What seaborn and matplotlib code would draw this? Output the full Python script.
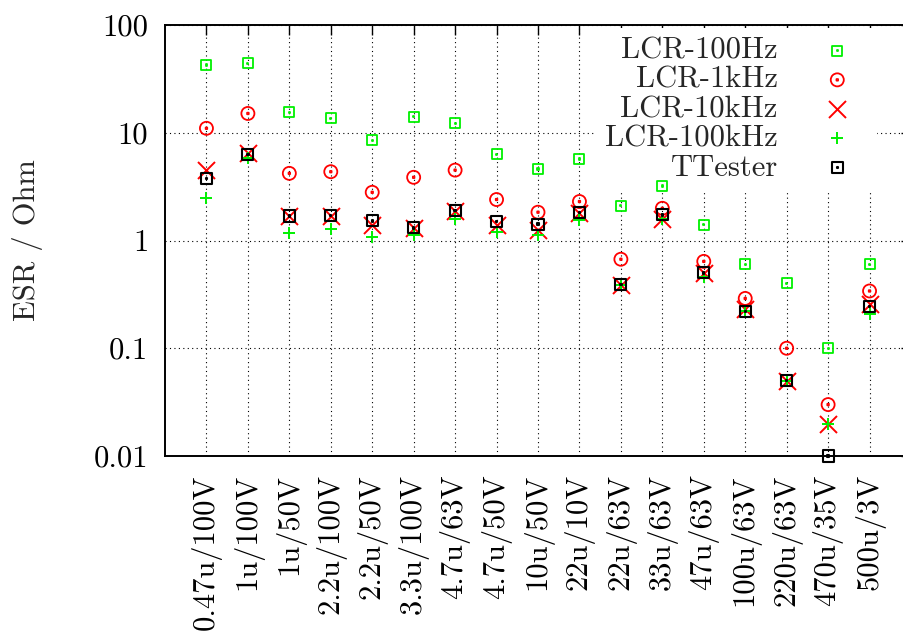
import matplotlib
matplotlib.use("Agg")
import matplotlib.pyplot as plt
from matplotlib.path import Path
from matplotlib.ticker import LogLocator, FuncFormatter, NullFormatter
import seaborn as sns

# capacitor labels (value / voltage)
categories = ["0.47u/100V", "1u/100V", "1u/50V", "2.2u/100V", "2.2u/50V",
              "3.3u/100V", "4.7u/63V", "4.7u/50V", "10u/50V", "22u/10V",
              "22u/63V", "33u/63V", "47u/63V", "100u/63V", "220u/63V",
              "470u/35V", "500u/3V"]

# ESR in Ohm
lcr_100hz = [42.5, 44, 15.5, 13.6, 8.5, 14.1, 12.2, 6.3, 4.6, 5.7,
             2.1, 3.2, 1.4, 0.6, 0.4, 0.1, 0.6]
lcr_1khz = [11, 15.1, 4.2, 4.35, 2.8, 3.86, 4.5, 2.4, 1.83, 2.3,
            0.67, 1.99, 0.64, 0.29, 0.1, 0.03, 0.34]
lcr_10khz = [4.5, 6.5, 1.69, 1.7, 1.38, 1.31, 1.89, 1.39, 1.25, 1.8,
             0.39, 1.6, 0.5, 0.23, 0.05, 0.02, 0.26]
lcr_100khz = [2.5, 5.8, 1.17, 1.28, 1.08, 1.13, 1.6, 1.2, 1.13, 1.55,
              0.39, 1.6, 0.46, 0.22, 0.05, 0.02, 0.21]
ttester = [3.78, 6.3, 1.69, 1.7, 1.52, 1.31, 1.89, 1.5, 1.42, 1.81,
           0.39, 1.73, 0.5, 0.218, 0.05, 0.01, 0.243]

sns.set_style("white")
plt.rcParams["font.family"] = ["cmr10", "DejaVu Serif"]
plt.rcParams["font.size"] = 22
plt.rcParams["axes.formatter.use_mathtext"] = True

GREEN = "#00f000"
RED = "#ff0000"


def with_dot(base):
    # gnuplot style marker: outline with a small dot in the middle
    d = 0.12
    dot = Path([(-d, -d), (d, -d), (d, d), (-d, d), (-d, -d)],
               [Path.MOVETO, Path.LINETO, Path.LINETO, Path.LINETO, Path.CLOSEPOLY])
    return Path.make_compound_path(base, dot)


square = Path([(-1, -1), (1, -1), (1, 1), (-1, 1), (-1, -1)],
              [Path.MOVETO, Path.LINETO, Path.LINETO, Path.LINETO, Path.CLOSEPOLY])
sq_dot = with_dot(square)
circ_dot = with_dot(Path.unit_circle())

fig = plt.figure(figsize=(9.04, 6.34), dpi=100)
ax = fig.add_axes([165 / 904, 1 - 456 / 634, 746 / 904, 431 / 634])

sns.scatterplot(x=categories, y=lcr_100hz, marker=sq_dot, s=52, color=GREEN,
                facecolor="none", edgecolor=GREEN, linewidth=1.3,
                label="LCR-100Hz", clip_on=False, zorder=3, ax=ax)
sns.scatterplot(x=categories, y=lcr_1khz, marker=circ_dot, s=88, color=RED,
                facecolor="none", edgecolor=RED, linewidth=1.3,
                label="LCR-1kHz", clip_on=False, zorder=3, ax=ax)
sns.scatterplot(x=categories, y=lcr_10khz, marker="x", s=150, color=RED,
                linewidth=1.4, label="LCR-10kHz", clip_on=False, zorder=3, ax=ax)
sns.scatterplot(x=categories, y=lcr_100khz, marker="+", s=80, color=GREEN,
                linewidth=1.4, label="LCR-100kHz", clip_on=False, zorder=3, ax=ax)
sns.scatterplot(x=categories, y=ttester, marker=sq_dot, s=64, color="black",
                facecolor="none", edgecolor="black", linewidth=1.5,
                label="TTester", clip_on=False, zorder=4, ax=ax)

ax.set_yscale("log")
ax.set_ylim(0.01, 100)
ax.set_xlim(-1, 17)
ax.yaxis.set_major_locator(LogLocator(base=10, numticks=10))
ax.yaxis.set_minor_locator(LogLocator(base=10, subs=range(2, 10), numticks=10))
ax.yaxis.set_major_formatter(FuncFormatter(lambda v, p: f"{v:g}"))
ax.yaxis.set_minor_formatter(NullFormatter())

ax.grid(True, which="major", color="black", linestyle=(0, (1, 3)), linewidth=0.8)
ax.set_axisbelow(True)
for sp in ax.spines.values():
    sp.set_linewidth(1.4)
    sp.set_color("black")

ax.tick_params(which="both", direction="in", top=True, right=True, width=1,
               colors="black")
ax.tick_params(which="major", length=7)
ax.tick_params(which="minor", length=4)
ax.tick_params(axis="x", pad=13, labelrotation=90)
ax.tick_params(axis="y", pad=12)

ax.set_ylabel("ESR / Ohm")
ax.yaxis.set_label_coords(-0.1636, 0.5)
ax.set_xlabel("")

leg = ax.legend(loc="upper right", bbox_to_anchor=(877 / 904, 1 - 28 / 634),
                bbox_transform=fig.transFigure, borderaxespad=0,
                markerfirst=False, frameon=True, fancybox=False,
                framealpha=1, facecolor="white", edgecolor="none",
                handlelength=2.0, handletextpad=0.95, labelspacing=0.06,
                borderpad=0.3, scatterpoints=1)
# box hides the grid but not the data points
leg.set_zorder(2.5)

fig.savefig("out.png", dpi=100)
